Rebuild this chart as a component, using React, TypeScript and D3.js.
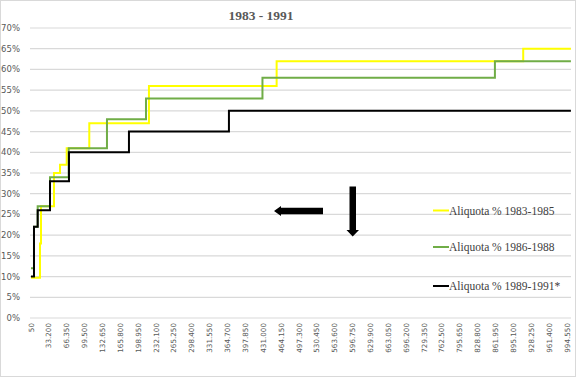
import React from "react";
import * as d3 from "d3";

const W = 578;
const H = 378;

const title = "1983 - 1991";

const yTicks = [0, 0.05, 0.1, 0.15, 0.2, 0.25, 0.3, 0.35, 0.4, 0.45, 0.5, 0.55, 0.6, 0.65, 0.7];

const xTickLabels = [
  "50", "33.200", "66.350", "99.500", "132.650", "165.800", "198.950", "232.100",
  "265.250", "298.400", "331.550", "364.700", "397.850", "431.000", "464.150",
  "497.300", "530.450", "563.600", "596.750", "629.900", "663.050", "696.200",
  "729.350", "762.500", "795.650", "828.800", "861.950", "895.100", "928.250",
  "961.400", "994.550",
];

// [income, rate] step points (step after)
const series1983: [number, number][] = [
  [50, 0.097], [16750, 0.18], [18600, 0.27], [42700, 0.35], [53850, 0.37],
  [66300, 0.41], [108200, 0.47], [218900, 0.56], [455800, 0.62], [913300, 0.65],
  [1001800, 0.65],
];
const series1986: [number, number][] = [
  [50, 0.12], [5600, 0.22], [12450, 0.27], [35300, 0.34], [70000, 0.41],
  [141000, 0.48], [213400, 0.53], [429500, 0.58], [860800, 0.62], [1001800, 0.62],
];
const series1989: [number, number][] = [
  [50, 0.1], [5600, 0.22], [12450, 0.26], [35300, 0.33], [70500, 0.4],
  [181800, 0.45], [367300, 0.5], [1001800, 0.5],
];

const seriesNames = ["Aliquota % 1983-1985", "Aliquota % 1986-1988", "Aliquota % 1989-1991*"];
const seriesColors = ["#ffff00", "#70ad47", "#000000"];

const parseLabel = (s: string) => parseFloat(s.replace(".", ""));

export default function App() {
  const x = d3.scaleLinear().domain([50, 994550]).range([31, 567]);
  const y = d3.scaleLinear().domain([0, 0.7]).range([318, 28]);
  const plotLeft = 30;
  const plotRight = 571;

  const line = d3
    .line<[number, number]>()
    .x((d) => x(d[0]))
    .y((d) => y(d[1]))
    .curve(d3.curveStepAfter);

  const all = [series1983, series1986, series1989];
  const legendY = [210.5, 247, 286];

  return (
    <svg
      width={W}
      height={H}
      style={{ position: "absolute", left: 0, top: 0, background: "#fff" }}
    >
      <rect x={0.5} y={0.5} width={575} height={376} fill="#fff" stroke="#d9d9d9" />
      <text
        x={261}
        y={19.5}
        textAnchor="middle"
        fontFamily="Liberation Serif"
        fontWeight="bold"
        fontSize={13.5}
        fill="#595959"
      >
        {title}
      </text>
      {yTicks.map((t) => (
        <g key={t}>
          <line
            x1={plotLeft}
            x2={plotRight}
            y1={y(t)}
            y2={y(t)}
            stroke="#d9d9d9"
            strokeWidth={1.2}
          />
          <text
            x={20}
            y={y(t) + 3}
            textAnchor="end"
            fontFamily="DejaVu Sans"
            fontSize={8.5}
            fill="#595959"
          >
            {Math.round(t * 100) + "%"}
          </text>
        </g>
      ))}
      {xTickLabels.map((l) => {
        const px = x(parseLabel(l));
        return (
          <text
            key={l}
            transform={`translate(${px + 2.5},323) rotate(-90)`}
            textAnchor="end"
            fontFamily="DejaVu Sans"
            fontSize={7.2}
            fill="#595959"
          >
            {l}
          </text>
        );
      })}
      {all.map((s, i) => (
        <path
          key={i}
          d={line(s) || ""}
          fill="none"
          stroke={seriesColors[i]}
          strokeWidth={2}
        />
      ))}
      {seriesNames.map((n, i) => (
        <g key={n}>
          <line
            x1={433}
            x2={449}
            y1={legendY[i]}
            y2={legendY[i]}
            stroke={seriesColors[i]}
            strokeWidth={2}
          />
          <text
            x={449}
            y={legendY[i] + 4}
            fontFamily="Liberation Serif"
            fontSize={11.5}
            fill="#404040"
          >
            {n}
          </text>
        </g>
      ))}
      {/* left arrow */}
      <path d="M323,207.7 L281,207.7 L281,206 L274,211 L281,216 L281,214.3 L323,214.3 Z" fill="#000" />
      {/* down arrow */}
      <path d="M349.5,186.5 L356,186.5 L356,230 L359,230 L352.7,236.5 L346.5,230 L349.5,230 Z" fill="#000" />
    </svg>
  );
}
